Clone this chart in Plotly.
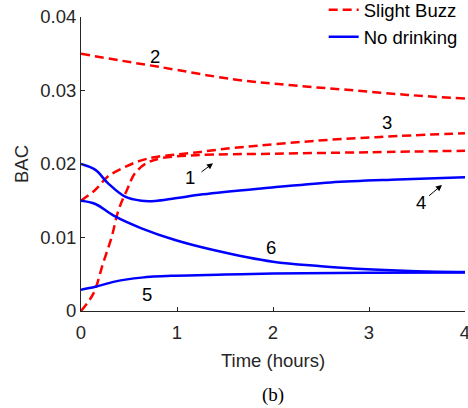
import plotly.graph_objects as go

# Time (hours) and BAC values
t1 = [0, 0.13, 0.23, 0.32, 0.39, 0.48, 0.56, 0.68, 0.84, 1.2, 2.0, 3.0, 4.0]
y1 = [0, 0.0024, 0.0065, 0.0101, 0.0137, 0.0165, 0.0187, 0.0201, 0.0208, 0.0212, 0.0214, 0.0216, 0.0218]

t2 = [0, 0.4, 0.82, 1.6, 2.2, 2.77, 3.4, 4.0]
y2 = [0.035, 0.0341, 0.0332, 0.0315, 0.0307, 0.0301, 0.0294, 0.0289]

t3 = [0, 0.15, 0.28, 0.46, 0.63, 0.8, 1.15, 1.6, 2.6, 3.3, 4.0]
y3 = [0.015, 0.0165, 0.0183, 0.0196, 0.0205, 0.021, 0.0215, 0.0222, 0.0233, 0.0238, 0.0242]

t4 = [0, 0.15, 0.28, 0.46, 0.63, 0.77, 0.98, 1.27, 1.9, 2.6, 3.3, 4.0]
y4 = [0.02, 0.0192, 0.0174, 0.01555, 0.0150, 0.01497, 0.01533, 0.01587, 0.0167, 0.0175, 0.0179, 0.0182]

t5 = [0, 0.15, 0.35, 0.63, 0.98, 1.5, 2.0, 3.0, 4.0]
y5 = [0.0029, 0.0033, 0.0040, 0.00454, 0.0048, 0.00495, 0.0051, 0.0052, 0.00525]

t6 = [0, 0.15, 0.35, 0.63, 0.98, 1.38, 2.0, 2.5, 2.98, 3.5, 4.0]
y6 = [0.015, 0.01456, 0.0129, 0.01125, 0.00966, 0.0083, 0.0067, 0.0061, 0.00567, 0.0054, 0.0053]

x_ticks = [0, 1, 2, 3, 4]
x_ticktext = ["0", "1", "2", "3", "4"]
y_ticks = [0, 0.01, 0.02, 0.03, 0.04]
y_ticktext = ["0", "0.01", "0.02", "0.03", "0.04"]

# curve labels: (text, x, y)
labels = [("1", 1.135, 0.0182), ("2", 0.77, 0.0346), ("3", 3.19, 0.0256),
          ("4", 3.54, 0.0147), ("5", 0.69, 0.0022), ("6", 1.98, 0.0087)]
# arrows: (tip_x, tip_y, tail_x, tail_y)
arrows = [(1.375, 0.0201, 1.24, 0.01878), (3.76, 0.01714, 3.61, 0.01551)]

RED = "#ff0000"
BLUE = "#0000ff"
FONT = "Liberation Sans, Arial, sans-serif"
GREY = "#262626"
FS = 18.5

fig = go.Figure()

red_curves = [(t1, y1), (t2, y2), (t3, y3)]
blue_curves = [(t4, y4), (t5, y5), (t6, y6)]

for i, (t, y) in enumerate(red_curves):
    fig.add_trace(go.Scatter(
        x=t, y=y, mode="lines", name="Slight Buzz",
        line=dict(color=RED, width=2.5, dash="9px,5px", shape="spline", smoothing=1.0),
        showlegend=(i == 0)))
for i, (t, y) in enumerate(blue_curves):
    fig.add_trace(go.Scatter(
        x=t, y=y, mode="lines", name="No drinking",
        line=dict(color=BLUE, width=2.5, shape="spline", smoothing=1.0),
        showlegend=(i == 0)))

annotations = []
for txt, x, y in labels:
    annotations.append(dict(x=x, y=y, xref="x", yref="y", text=txt, showarrow=False,
                            font=dict(family=FONT, size=FS, color="black")))
for tx, ty, sx, sy in arrows:
    annotations.append(dict(x=tx, y=ty, xref="x", yref="y", ax=sx, ay=sy,
                            axref="x", ayref="y", text="", showarrow=True,
                            arrowhead=2, arrowsize=1.2, arrowwidth=1, arrowcolor="black"))
annotations.append(dict(x=0.5, y=-0.2857, xref="paper", yref="paper", text="(b)",
                        showarrow=False, xanchor="center", yanchor="middle",
                        font=dict(family="Liberation Serif, Times New Roman, serif", size=19, color="black")))

fig.update_layout(
    width=468, height=408,
    margin=dict(l=81, r=3, t=17, b=97, autoexpand=False),
    plot_bgcolor="white", paper_bgcolor="white",
    font=dict(family=FONT, size=FS, color=GREY),
    showlegend=True,
    legend=dict(x=0.632, y=1.088, xref="paper", yref="paper", xanchor="left", yanchor="top",
                bgcolor="rgba(0,0,0,0)", font=dict(size=FS, color="black"),
                traceorder="normal", itemwidth=30),
    annotations=annotations,
    xaxis=dict(range=[0, 4], tickvals=x_ticks, ticktext=x_ticktext,
               showgrid=False, zeroline=False, showline=True, linecolor=GREY, linewidth=1,
               ticks="inside", ticklen=4, tickcolor=GREY, ticklabeloverflow="allow",
               ticklabelstandoff=5,
               title=dict(text="Time (hours)", standoff=11, font=dict(size=FS, color=GREY))),
    yaxis=dict(range=[0, 0.04], tickvals=y_ticks, ticktext=y_ticktext,
               showgrid=False, zeroline=False, showline=True, linecolor=GREY, linewidth=1,
               ticks="inside", ticklen=4, tickcolor=GREY,
               title=dict(text="BAC", standoff=6, font=dict(size=FS, color=GREY))),
)

fig.write_html("out.html")
